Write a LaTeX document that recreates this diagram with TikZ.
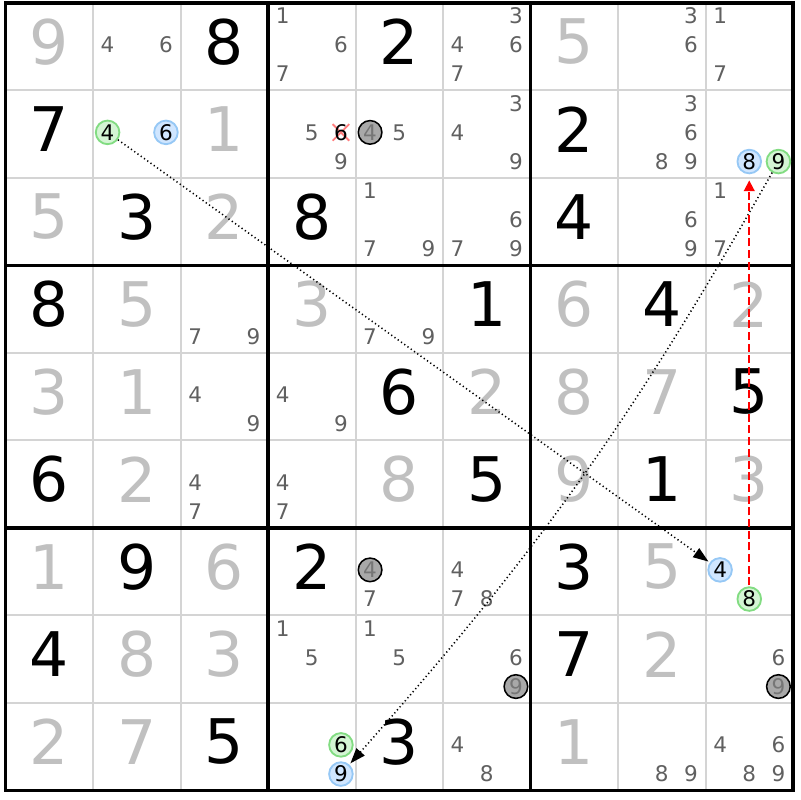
\documentclass[tikz,border=0pt]{standalone}
\usepackage{fontspec}
\setmainfont{DejaVu Sans}
\usepackage{xcolor}
\definecolor{solvedgray}{RGB}{192,192,192}
\definecolor{candgray}{RGB}{96,96,96}
\definecolor{gridgray}{RGB}{212,212,212}
\definecolor{mygreen}{RGB}{130,220,130}
\definecolor{mylightgreen}{RGB}{212,245,212}
\definecolor{myblue}{RGB}{150,200,245}
\definecolor{mylightblue}{RGB}{208,230,255}
\definecolor{mygray}{RGB}{168,168,168}
\definecolor{mygrayid}{RGB}{118,118,118}
\definecolor{mylightred}{RGB}{255,125,125}
\usepackage{tikz}
\usetikzlibrary{arrows.meta}
\newcommand{\sizegiven}{\fontsize{20}{20}\selectfont}
\newcommand{\sizecand}{\fontsize{7}{7}\selectfont}
\newcommand{\cand}[4]{\node[#1] (c#2#3-#4) at ({#3-0.5+(mod(#4-1,3)-1)/3},{0.5-#2+(1-floor((#4-1)/3))/3}) {#4};}
\tikzset{
    thin-line/.style={gridgray, line width=0.65pt},
    thick-line/.style={black, line width=1pt, line cap=rect},
    given/.style={font=\sizegiven, inner sep=0pt, yshift=1.6pt},
    solved/.style={given, text=solvedgray},
    cand/.style={font=\sizecand, text=candgray, circle, inner sep=0pt, minimum size=2.7mm, yshift=0.6pt},
    cand-green/.style={cand, text=black, draw=mygreen, fill=mylightgreen, line width=0.6pt},
    cand-blue/.style={cand, text=black, draw=myblue, fill=mylightblue, line width=0.6pt},
    cand-gray/.style={cand, text=mygrayid, draw=black, fill=mygray, line width=0.5pt},
    cand-del/.style={cand, text=black,
        path picture={
            \draw[mylightred, line width=0.6pt, shorten <=1.3pt, shorten >=1.3pt]
                (path picture bounding box.south east) -- (path picture bounding box.north west);
            \draw[mylightred, line width=0.6pt, shorten <=1.3pt, shorten >=1.3pt]
                (path picture bounding box.south west) -- (path picture bounding box.north east);
        }
    },
    link/.style={black, line width=0.5pt, dash pattern=on 0.4pt off 0.9pt,
        -{Triangle[length=5pt, width=3.5pt]}, shorten >=0.5pt},
    strong-link/.style={red, line width=0.6pt, dash pattern=on 2.6pt off 1.2pt,
        -{Triangle[length=3.5pt, width=3.5pt]}, shorten >=2pt, shorten <=0.3pt}
}
\begin{document}
\begin{tikzpicture}
        \useasboundingbox (-0.063,0.034) rectangle (9.08,-9.109);

        \foreach \i in {1,2,4,5,7,8} {
            \draw[thin-line] (\i,0) -- (\i,-9);
            \draw[thin-line] (0,-\i) -- (9,-\i);
        }
        \foreach \i in {3,6} {
            \draw[thick-line] (\i,0) -- (\i,-9);
            \draw[thick-line] (0,-\i) -- (9,-\i);
        }
        \draw[thick-line] (0,0) rectangle (9,-9);

        \foreach \row/\col/\dig in {1/3/8, 1/5/2, 2/1/7, 2/7/2, 3/2/3, 3/4/8, 3/7/4,
                4/1/8, 4/6/1, 4/8/4, 5/5/6, 5/9/5, 6/1/6, 6/6/5, 6/8/1,
                7/2/9, 7/4/2, 7/7/3, 8/1/4, 8/7/7, 9/3/5, 9/5/3}
            \node[given] (v\row\col) at (\col-0.5,0.5-\row) {\dig};

        \foreach \row/\col/\dig in {1/1/9, 1/7/5, 2/3/1, 3/1/5, 3/3/2,
                4/2/5, 4/4/3, 4/7/6, 4/9/2, 5/1/3, 5/2/1, 5/6/2, 5/7/8, 5/8/7,
                6/2/2, 6/5/8, 6/7/9, 6/9/3, 7/1/1, 7/3/6, 7/8/5,
                8/2/8, 8/3/3, 8/8/2, 9/1/2, 9/2/7, 9/7/1}
            \node[solved] (v\row\col) at (\col-0.5,0.5-\row) {\dig};

        \foreach \row/\col/\dig in {1/2/4, 1/2/6, 1/4/1, 1/4/6, 1/4/7, 1/6/3, 1/6/4, 1/6/6, 1/6/7,
                1/8/3, 1/8/6, 1/9/1, 1/9/7, 2/4/5, 2/4/9, 2/5/5, 2/6/3, 2/6/4, 2/6/9,
                2/8/3, 2/8/6, 2/8/8, 2/8/9, 3/5/1, 3/5/7, 3/5/9, 3/6/6, 3/6/7, 3/6/9,
                3/8/6, 3/8/9, 3/9/1, 3/9/7, 4/3/7, 4/3/9, 4/5/7, 4/5/9, 5/3/4, 5/3/9,
                5/4/4, 5/4/9, 6/3/4, 6/3/7, 6/4/4, 6/4/7, 7/5/7, 7/6/4, 7/6/7, 7/6/8,
                8/4/1, 8/4/5, 8/5/1, 8/5/5, 8/6/6, 8/9/6, 9/6/4, 9/6/8, 9/8/8, 9/8/9,
                9/9/4, 9/9/6, 9/9/8, 9/9/9}
            {\cand{cand}{\row}{\col}{\dig}}

        \cand{cand-green}{2}{2}{4}
        \cand{cand-blue}{2}{2}{6}
        \cand{cand-del}{2}{4}{6}
        \cand{cand-gray}{2}{5}{4}
        \cand{cand-blue}{2}{9}{8}
        \cand{cand-green}{2}{9}{9}
        \cand{cand-gray}{7}{5}{4}
        \cand{cand-blue}{7}{9}{4}
        \cand{cand-green}{7}{9}{8}
        \cand{cand-gray}{8}{6}{9}
        \cand{cand-gray}{8}{9}{9}
        \cand{cand-green}{9}{4}{6}
        \cand{cand-blue}{9}{4}{9}

        \draw[link] (c22-4) -- (c79-4);
        \draw[link] (c29-9) to[bend left=6] (c94-9);
        \draw[strong-link] (c79-8) -- (c29-8);
    \end{tikzpicture}
\end{document}
